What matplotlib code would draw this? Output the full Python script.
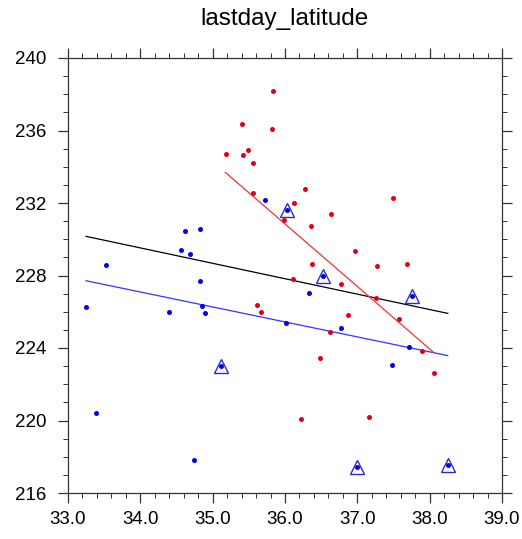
import matplotlib
matplotlib.use("Agg")
import matplotlib.pyplot as plt
from matplotlib.ticker import MultipleLocator, FormatStrFormatter

plt.rcParams['font.family'] = ['Liberation Sans', 'DejaVu Sans']

# red series
red_x = [35.83, 35.41, 35.82, 35.18, 35.42, 35.49, 35.56, 35.56, 36.13, 35.98,
         36.27, 37.49, 36.64, 36.36, 36.97, 36.37, 37.27, 37.68, 36.11, 35.61,
         35.67, 36.78, 37.26, 36.87, 37.57, 36.62, 37.90, 36.49, 38.06, 36.22, 37.16]
red_y = [238.18, 236.38, 236.08, 234.70, 234.67, 234.91, 234.21, 232.55, 232.02, 231.04,
         232.79, 232.26, 231.39, 230.73, 229.33, 228.63, 228.52, 228.63, 227.81, 226.39,
         225.99, 227.53, 226.78, 225.80, 225.62, 224.88, 223.85, 223.46, 222.64, 220.10, 220.21]

# blue series
blue_x = [35.73, 36.03, 34.62, 34.82, 34.56, 34.69, 33.52, 33.25, 34.82, 34.40,
          34.85, 34.89, 36.01, 35.11, 33.39, 34.74, 36.53, 37.75, 36.33, 36.78,
          37.71, 37.48, 37.00, 38.25]
blue_y = [232.18, 231.60, 230.47, 230.57, 229.42, 229.17, 228.58, 226.26, 227.71, 225.99,
          226.32, 225.95, 225.36, 222.99, 220.41, 217.82, 227.99, 226.89, 227.03, 225.10,
          224.06, 223.06, 217.42, 217.53]
# blue points marked with triangles
tri_x = [36.03, 35.11, 36.53, 37.75, 37.00, 38.25]
tri_y = [231.60, 222.99, 227.99, 226.89, 217.42, 217.53]

# regression lines (endpoints)
fit_all_x = [33.25, 38.25]
fit_all_y = [230.16, 225.91]
fit_blue_x = [33.25, 38.25]
fit_blue_y = [227.71, 223.58]
fit_red_x = [35.175, 38.06]
fit_red_y = [233.69, 223.74]

fig = plt.figure(figsize=(5.22, 5.39), dpi=100)
ax = fig.add_axes([68/522, 1-493/539, 434/522, 435/539])

ax.plot(fit_all_x, fit_all_y, color='black', lw=0.9, zorder=2)
ax.plot(fit_blue_x, fit_blue_y, color='#3333ff', lw=0.9, zorder=2)
ax.plot(fit_red_x, fit_red_y, color='#ee3333', lw=0.9, zorder=2)

ax.plot(red_x, red_y, 'o', color='#e0001b', ms=3.6, mew=0, zorder=3)
ax.plot(blue_x, blue_y, 'o', color='#0000ee', ms=3.6, mew=0, zorder=3)
ax.plot(tri_x, tri_y, '^', mfc='none', mec='#2b2bd0', ms=10, mew=1.0, zorder=4)

ax.set_xlim(33.0, 39.0)
ax.set_ylim(216, 240)
ax.xaxis.set_major_locator(MultipleLocator(1.0))
ax.xaxis.set_minor_locator(MultipleLocator(0.2))
ax.xaxis.set_major_formatter(FormatStrFormatter('%.1f'))
ax.yaxis.set_major_locator(MultipleLocator(4))
ax.yaxis.set_minor_locator(MultipleLocator(1))

ax.tick_params(which='both', direction='out', top=True, right=True,
               labeltop=False, labelright=False, color='#333333')
ax.tick_params(which='major', length=7.2, width=0.9, labelsize=13.5, pad=5.5)
ax.tick_params(axis='y', which='major', pad=8.5)
ax.tick_params(which='minor', length=3.6, width=0.7)
for s in ax.spines.values():
    s.set_linewidth(0.9)
    s.set_color('#333333')

fig.text(68/522 + 434/522/2, 1-19/539, 'lastday_latitude',
         ha='center', va='center', fontsize=17.5)

fig.savefig('out.png', dpi=100)
